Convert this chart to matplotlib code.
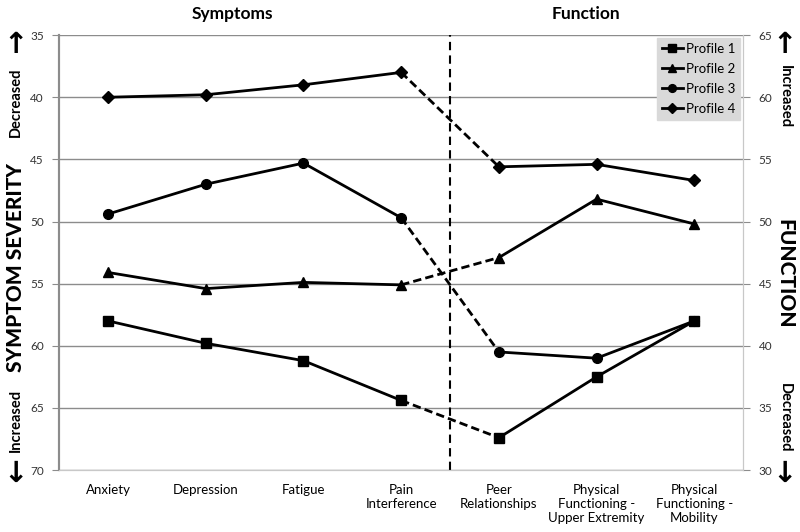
import matplotlib
matplotlib.use("Agg")
import matplotlib.pyplot as plt
import numpy as np

plt.rcParams['font.family'] = ['Lato', 'DejaVu Sans']

categories = ["Anxiety", "Depression", "Fatigue", "Pain\nInterference",
              "Peer\nRelationships", "Physical\nFunctioning -\nUpper Extremity",
              "Physical\nFunctioning -\nMobility"]
n_symptoms = 4

# Symptom values (left axis) for first 4 categories, function values (right axis) for last 3
profile1 = [58.0, 59.8, 61.2, 64.4, 32.6, 37.5, 42.0]
profile2 = [54.1, 55.4, 54.9, 55.1, 47.1, 51.8, 49.8]
profile3 = [49.4, 47.0, 45.3, 49.7, 39.5, 39.0, 42.0]
profile4 = [40.0, 39.8, 39.0, 38.0, 54.4, 54.6, 53.3]

profiles = {"Profile 1": (profile1, 's'),
            "Profile 2": (profile2, '^'),
            "Profile 3": (profile3, 'o'),
            "Profile 4": (profile4, 'D')}

left_ticks = [35, 40, 45, 50, 55, 60, 65, 70]
right_ticks = [30, 35, 40, 45, 50, 55, 60, 65]

fig = plt.figure(figsize=(8, 5.32), dpi=100)
ax = fig.add_axes([0.074, 0.1165, 0.855, 0.8175])
ax2 = ax.twinx()

x = np.arange(len(categories))
for name, (vals, mk) in profiles.items():
    # map function scores onto symptom scale (left axis), since right = 100 - left
    y = np.array([v if i < n_symptoms else 100 - v for i, v in enumerate(vals)])
    ms = 7 if mk != 'D' else 6
    ax.plot(x[:n_symptoms], y[:n_symptoms], color='black', lw=2, marker=mk, ms=ms, zorder=3)
    ax.plot(x[n_symptoms - 1:n_symptoms + 1], y[n_symptoms - 1:n_symptoms + 1], color='black',
            lw=2, ls=(0, (3, 1.5)), zorder=3)
    ax.plot(x[n_symptoms:], y[n_symptoms:], color='black', lw=2, marker=mk, ms=ms, zorder=3,
            label=name)

ax.axvline(n_symptoms - 0.5, color='black', lw=1.5, ls=(0, (4, 2.5)), zorder=2)

ax.set_xlim(-0.5, len(categories) - 0.5)
ax.set_ylim(70, 35)
ax.set_yticks(left_ticks)
ax.yaxis.grid(True, color='#8c8c8c', lw=1)
ax.set_axisbelow(True)
ax2.set_ylim(30, 65)
ax2.set_yticks(right_ticks)

ax.set_xticks(x)
ax.set_xticklabels(categories, fontsize=9.5)
ax.tick_params(axis='x', length=0, pad=10)
ax.tick_params(axis='y', length=5, color='#8c8c8c', labelsize=8.5, labelcolor='#333333', pad=6)
ax2.tick_params(axis='y', length=5, color='#8c8c8c', labelsize=8.5, labelcolor='#333333', pad=6)

for a in (ax, ax2):
    a.spines['top'].set_visible(False)
    a.spines['left'].set_color('#8c8c8c')
    a.spines['right'].set_color('#c8c8c8')
    a.spines['bottom'].set_color('#c8c8c8')
    a.spines['left'].set_linewidth(1.5)

leg = ax.legend(loc='upper right', bbox_to_anchor=(0.9995, 1.0), frameon=True, fontsize=9.5,
                handlelength=1.6, handletextpad=0.2, borderpad=0.4, labelspacing=0.6,
                fancybox=False, borderaxespad=0.2, markerscale=0.8)
leg.get_frame().set_facecolor('#d9d9d9')
leg.get_frame().set_edgecolor('#d9d9d9')
leg.get_frame().set_alpha(1)

fig.text(232 / 800, 1 - 14 / 532, "Symptoms", ha='center', va='center', fontsize=12.5, fontweight='bold')
fig.text(586 / 800, 1 - 14 / 532, "Function", ha='center', va='center', fontsize=12.5, fontweight='bold')

arrow_kw = dict(ha='center', va='center', fontsize=21, fontweight='bold', family='DejaVu Sans')
lab_kw = dict(ha='center', va='center', fontsize=10.5, fontweight='bold')
big_kw = dict(ha='center', va='center', fontsize=15, fontweight='black')

# left side
fig.text(16 / 800, 1 - 45 / 532, "\u2191", **arrow_kw)
fig.text(16 / 800, 1 - 102 / 532, "Decreased", rotation=90, **lab_kw)
fig.text(16 / 800, 1 - 268 / 532, "SYMPTOM SEVERITY", rotation=90, **big_kw)
fig.text(16 / 800, 1 - 420 / 532, "Increased", rotation=90, **lab_kw)
fig.text(16 / 800, 1 - 474 / 532, "\u2193", **arrow_kw)

# right side
fig.text(785 / 800, 1 - 45 / 532, "\u2191", **arrow_kw)
fig.text(785 / 800, 1 - 97 / 532, "Increased", rotation=270, **lab_kw)
fig.text(785 / 800, 1 - 274 / 532, "FUNCTION", rotation=270, **big_kw)
fig.text(785 / 800, 1 - 418 / 532, "Decreased", rotation=270, **lab_kw)
fig.text(785 / 800, 1 - 474 / 532, "\u2193", **arrow_kw)

fig.savefig("out.png", dpi=100)
